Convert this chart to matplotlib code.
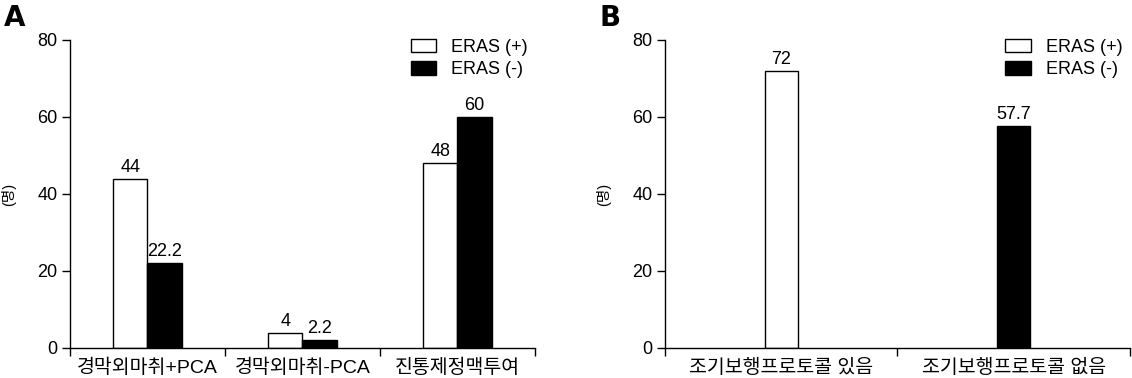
import matplotlib.pyplot as plt
import numpy as np
from matplotlib.patches import Patch

plt.rcParams['font.family'] = ['Liberation Sans', 'Noto Sans CJK KR', 'DejaVu Sans']

# panel A
cats_a = ['경막외마취+PCA', '경막외마취-PCA', '진통제정맥투여']
eras_pos_a = [44, 4, 48]
eras_neg_a = [22.2, 2.2, 60]

# panel B
cats_b = ['조기보행프로토콜 있음', '조기보행프로토콜 없음']
eras_b = [72, 57.7]
eras_b_group = ['+', '-']

series_names = ['ERAS (+)', 'ERAS (-)']
y_label = '(명)'
y_ticks = [0, 20, 40, 60, 80]

fig = plt.figure(figsize=(11.32, 3.78), dpi=100)
ax_a = fig.add_axes([0.0618, 0.0794, 0.4108, 0.8148])
ax_b = fig.add_axes([0.5875, 0.0794, 0.4105, 0.8148])


def style_axis(ax, ncat):
    ax.set_ylim(0, 80)
    ax.set_xlim(-0.5, ncat - 0.5)
    ax.set_yticks(y_ticks)
    ax.spines['top'].set_visible(False)
    ax.spines['right'].set_visible(False)
    ax.spines['left'].set_linewidth(1)
    ax.spines['bottom'].set_linewidth(1)
    ax.set_xticks(np.arange(ncat + 1) - 0.5)
    ax.set_xticklabels([])
    ax.tick_params(axis='x', which='major', direction='out', length=6, width=1)
    ax.tick_params(axis='y', direction='out', length=6, width=1, labelsize=13, pad=3)
    ax.tick_params(axis='x', which='minor', length=0, labelsize=14, pad=8)
    ax.set_ylabel(y_label, fontsize=10.5, labelpad=15)


def add_legend(ax):
    handles = [Patch(facecolor='white', edgecolor='black'), Patch(facecolor='black', edgecolor='black')]
    ax.legend(handles, series_names, loc='upper right', bbox_to_anchor=(1.012, 1.045), frameon=False,
              fontsize=13, handlelength=1.4, handleheight=0.75, handletextpad=0.85, labelspacing=0.3,
              borderpad=0.2)


x = np.arange(len(cats_a))
w = 0.22
b1 = ax_a.bar(x - w / 2, eras_pos_a, w, color='white', edgecolor='black', linewidth=1)
b2 = ax_a.bar(x + w / 2, eras_neg_a, w, color='black', edgecolor='black', linewidth=1)
ax_a.bar_label(b1, fmt='%g', fontsize=13, padding=2)
ax_a.bar_label(b2, fmt='%g', fontsize=13, padding=2)
style_axis(ax_a, len(cats_a))
ax_a.set_xticks(x, minor=True)
ax_a.set_xticklabels(cats_a, minor=True)
add_legend(ax_a)

xb = np.arange(len(cats_b))
wb = 0.142
colors_b = ['white' if g == '+' else 'black' for g in eras_b_group]
bb = ax_b.bar(xb, eras_b, wb, color=colors_b, edgecolor='black', linewidth=1)
ax_b.bar_label(bb, fmt='%g', fontsize=13, padding=2)
style_axis(ax_b, len(cats_b))
ax_b.set_xticks(xb, minor=True)
ax_b.set_xticklabels(cats_b, minor=True)
add_legend(ax_b)

fig.text(0.003, 0.99, 'A', fontsize=20, fontweight='bold', va='top', ha='left', family='DejaVu Sans')
fig.text(0.530, 0.99, 'B', fontsize=20, fontweight='bold', va='top', ha='left', family='DejaVu Sans')

fig.savefig('out.png', dpi=100)
